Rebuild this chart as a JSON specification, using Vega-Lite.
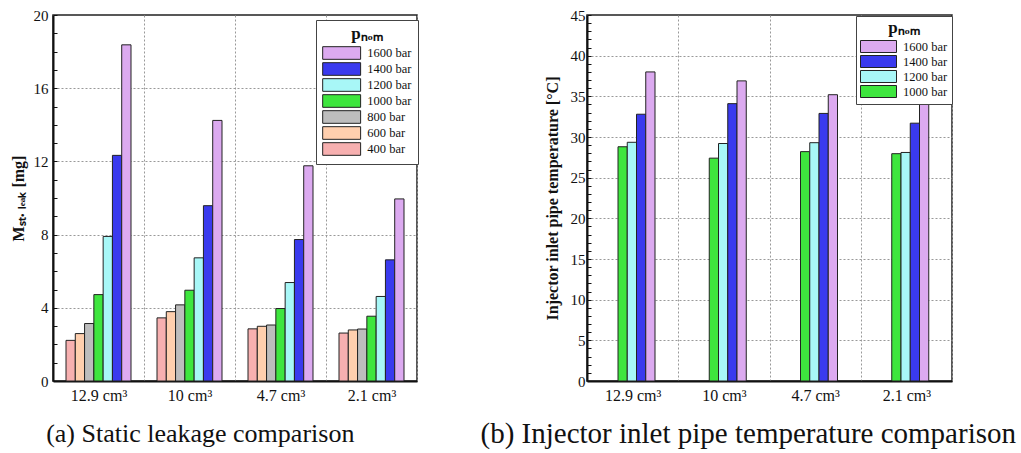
{
  "$schema": "https://vega.github.io/schema/vega-lite/v6.json",
  "background": "white",
  "padding": {"left": 9, "top": 7, "right": 5, "bottom": 5},
  "spacing": 170,
  "bounds": "flush",
  "datasets": {
    "leak": [
      {"vol": "12.9 cm³", "p": "400 bar", "value": 2.22},
      {"vol": "12.9 cm³", "p": "600 bar", "value": 2.59},
      {"vol": "12.9 cm³", "p": "800 bar", "value": 3.14},
      {"vol": "12.9 cm³", "p": "1000 bar", "value": 4.72},
      {"vol": "12.9 cm³", "p": "1200 bar", "value": 7.9},
      {"vol": "12.9 cm³", "p": "1400 bar", "value": 12.33},
      {"vol": "12.9 cm³", "p": "1600 bar", "value": 18.37},
      {"vol": "10 cm³", "p": "400 bar", "value": 3.45},
      {"vol": "10 cm³", "p": "600 bar", "value": 3.79},
      {"vol": "10 cm³", "p": "800 bar", "value": 4.16},
      {"vol": "10 cm³", "p": "1000 bar", "value": 4.96},
      {"vol": "10 cm³", "p": "1200 bar", "value": 6.73},
      {"vol": "10 cm³", "p": "1400 bar", "value": 9.58},
      {"vol": "10 cm³", "p": "1600 bar", "value": 14.24},
      {"vol": "4.7 cm³", "p": "400 bar", "value": 2.85},
      {"vol": "4.7 cm³", "p": "600 bar", "value": 2.99},
      {"vol": "4.7 cm³", "p": "800 bar", "value": 3.06},
      {"vol": "4.7 cm³", "p": "1000 bar", "value": 3.96},
      {"vol": "4.7 cm³", "p": "1200 bar", "value": 5.38},
      {"vol": "4.7 cm³", "p": "1400 bar", "value": 7.73},
      {"vol": "4.7 cm³", "p": "1600 bar", "value": 11.76},
      {"vol": "2.1 cm³", "p": "400 bar", "value": 2.62},
      {"vol": "2.1 cm³", "p": "600 bar", "value": 2.79},
      {"vol": "2.1 cm³", "p": "800 bar", "value": 2.84},
      {"vol": "2.1 cm³", "p": "1000 bar", "value": 3.54},
      {"vol": "2.1 cm³", "p": "1200 bar", "value": 4.62},
      {"vol": "2.1 cm³", "p": "1400 bar", "value": 6.62},
      {"vol": "2.1 cm³", "p": "1600 bar", "value": 9.95}
    ],
    "temp": [
      {"vol": "12.9 cm³", "p": "1000 bar", "value": 28.8},
      {"vol": "12.9 cm³", "p": "1200 bar", "value": 29.35},
      {"vol": "12.9 cm³", "p": "1400 bar", "value": 32.8},
      {"vol": "12.9 cm³", "p": "1600 bar", "value": 38.0},
      {"vol": "10 cm³", "p": "1000 bar", "value": 27.4},
      {"vol": "10 cm³", "p": "1200 bar", "value": 29.2},
      {"vol": "10 cm³", "p": "1400 bar", "value": 34.1},
      {"vol": "10 cm³", "p": "1600 bar", "value": 36.9},
      {"vol": "4.7 cm³", "p": "1000 bar", "value": 28.2},
      {"vol": "4.7 cm³", "p": "1200 bar", "value": 29.3},
      {"vol": "4.7 cm³", "p": "1400 bar", "value": 32.9},
      {"vol": "4.7 cm³", "p": "1600 bar", "value": 35.2},
      {"vol": "2.1 cm³", "p": "1000 bar", "value": 27.95},
      {"vol": "2.1 cm³", "p": "1200 bar", "value": 28.1},
      {"vol": "2.1 cm³", "p": "1400 bar", "value": 31.7},
      {"vol": "2.1 cm³", "p": "1600 bar", "value": 34.1}
    ]
  },
  "config": {
    "font": "Liberation Serif",
    "view": {"stroke": "#222", "strokeWidth": 1.5},
    "axis": {
      "labelFont": "Liberation Serif",
      "labelColor": "#111",
      "titleFont": "Liberation Serif",
      "titleColor": "#111",
      "titleFontWeight": "bold",
      "titleFontSize": 16,
      "domainColor": "#111",
      "domainWidth": 2,
      "tickColor": "#111",
      "tickWidth": 1,
      "gridColor": "#999",
      "gridDash": [2, 2],
      "gridWidth": 1
    },
    "legend": {
      "orient": "none",
      "direction": "vertical",
      "titleFont": "Liberation Serif",
      "titleFontSize": 17,
      "titleFontWeight": "bold",
      "titleColor": "#111",
      "titleAnchor": "middle",
      "titlePadding": 3,
      "labelFont": "Liberation Serif",
      "labelFontSize": 12.5,
      "labelColor": "#111",
      "symbolType": "M-3,-1H3V1H-3Z",
      "symbolStrokeColor": "#222",
      "symbolStrokeWidth": 1,
      "symbolOpacity": 1,
      "strokeColor": "#444",
      "fillColor": "white"
    },
    "title": {"font": "Liberation Serif", "fontWeight": "normal", "color": "#111"}
  },
  "resolve": {
    "scale": {"x": "independent", "y": "independent", "xOffset": "independent", "fill": "independent"},
    "legend": {"fill": "independent"},
    "axis": {"x": "independent", "y": "independent"}
  },
  "hconcat": [
    {
      "width": 364,
      "height": 366,
      "data": {"name": "leak"},
      "title": {"text": "(a) Static leakage comparison", "orient": "bottom", "anchor": "middle", "frame": "bounds", "offset": 18, "dx": -14, "fontSize": 26},
      "mark": {"type": "bar", "stroke": "#222", "strokeWidth": 1},
      "encoding": {
        "x": {
          "field": "vol", "type": "nominal",
          "sort": ["12.9 cm³", "10 cm³", "4.7 cm³", "2.1 cm³"],
          "scale": {"paddingInner": 0, "paddingOuter": 0},
          "axis": {"title": null, "labelAngle": 0, "labelFontSize": 16, "ticks": false, "grid": true, "tickBand": "extent", "labelPadding": 6}
        },
        "xOffset": {
          "field": "p", "type": "nominal",
          "sort": ["400 bar", "600 bar", "800 bar", "1000 bar", "1200 bar", "1400 bar", "1600 bar"],
          "scale": {"range": [13, 78], "paddingInner": 0, "paddingOuter": 0}
        },
        "y": {
          "field": "value", "type": "quantitative",
          "scale": {"domain": [0, 20], "nice": false},
          "axis": {
            "title": "Mₛₜ. ₗₑₐₖ [mg]",
            "values": [0,1,2,3,4,5,6,7,8,9,10,11,12,13,14,15,16,17,18,19,20],
            "labelExpr": "datum.value % 4 === 0 ? datum.label : ''",
            "labelFontSize": 15,
            "tickSize": -4,
            "gridOpacity": {"condition": {"test": "datum.value % 4 === 0 && datum.value > 0 && datum.value < 20", "value": 1}, "value": 0},
            "labelPadding": 9,
            "titlePadding": 7
          }
        },
        "fill": {
          "field": "p", "type": "nominal",
          "scale": {
            "domain": ["1600 bar", "1400 bar", "1200 bar", "1000 bar", "800 bar", "600 bar", "400 bar"],
            "range": ["#dcaaf0", "#3a3aee", "#a8f7f7", "#3ee63e", "#bdbdbd", "#ffcfae", "#f7b0b0"]
          },
          "legend": {"title": "pₙₒₘ", "legendX": 263, "legendY": 5, "symbolSize": 160, "symbolOffset": 12.65, "labelOffset": 18.65, "padding": 6, "rowPadding": -2}
        }
      }
    },
    {
      "width": 365,
      "height": 366,
      "data": {"name": "temp"},
      "title": {"text": "(b) Injector inlet pipe temperature comparison", "orient": "bottom", "anchor": "middle", "frame": "bounds", "offset": 17, "dx": 0, "fontSize": 29},
      "mark": {"type": "bar", "stroke": "#222", "strokeWidth": 1},
      "encoding": {
        "x": {
          "field": "vol", "type": "nominal",
          "sort": ["12.9 cm³", "10 cm³", "4.7 cm³", "2.1 cm³"],
          "scale": {"paddingInner": 0, "paddingOuter": 0},
          "axis": {"title": null, "labelAngle": 0, "labelFontSize": 16, "ticks": false, "grid": true, "tickBand": "extent", "labelPadding": 6}
        },
        "xOffset": {
          "field": "p", "type": "nominal",
          "sort": ["1000 bar", "1200 bar", "1400 bar", "1600 bar"],
          "scale": {"range": [31, 68], "paddingInner": 0, "paddingOuter": 0}
        },
        "y": {
          "field": "value", "type": "quantitative",
          "scale": {"domain": [0, 45], "nice": false},
          "axis": {
            "title": "Injector inlet pipe temperature [°C]",
            "values": [0,1,2,3,4,5,6,7,8,9,10,11,12,13,14,15,16,17,18,19,20,21,22,23,24,25,26,27,28,29,30,31,32,33,34,35,36,37,38,39,40,41,42,43,44,45],
            "labelExpr": "datum.value % 5 === 0 ? datum.label : ''",
            "labelFontSize": 15,
            "tickSize": -4,
            "gridOpacity": {"condition": {"test": "datum.value % 5 === 0 && datum.value > 0 && datum.value < 45", "value": 1}, "value": 0},
            "labelPadding": 6,
            "titlePadding": 10
          }
        },
        "fill": {
          "field": "p", "type": "nominal",
          "scale": {
            "domain": ["1600 bar", "1400 bar", "1200 bar", "1000 bar"],
            "range": ["#dcaaf0", "#3a3aee", "#a8f7f7", "#3ee63e"]
          },
          "legend": {"title": "pₙₒₘ", "legendX": 269, "legendY": 1, "symbolSize": 144, "symbolOffset": 12, "labelOffset": 18, "padding": 4, "rowPadding": -3}
        }
      }
    }
  ]
}
